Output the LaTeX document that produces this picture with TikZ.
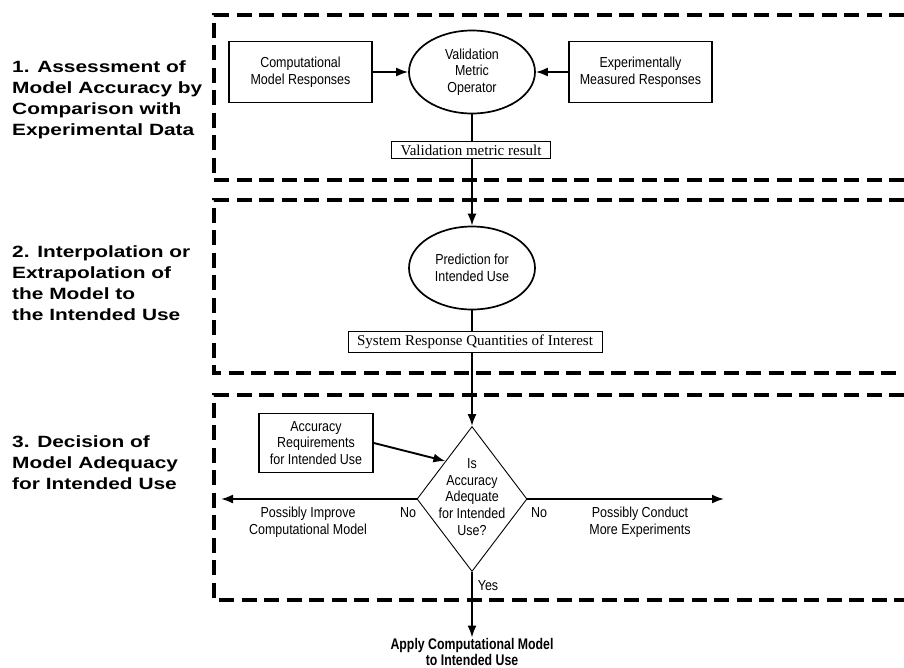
\documentclass[tikz,border=0pt]{standalone}
\usepackage{fontspec}
\setmainfont{Liberation Serif}
\newfontfamily\nodefont[FakeStretch=0.86]{Liberation Sans}
\newfontfamily\labfont[FakeStretch=1.28]{Liberation Sans}
\newfontfamily\condfont[FakeStretch=0.8]{Liberation Sans}
\usetikzlibrary{shapes.geometric,arrows.meta,calc}
\begin{document}
\begin{tikzpicture}[x=1pt,y=-1pt,
  dashbox/.style={line width=3.3pt,dash pattern=on 15pt off 7.5pt},
  sbox/.style={draw,line width=1.7pt,inner sep=0pt,align=center,
    font=\nodefont\fontsize{14.5}{16.7}\selectfont},
  ell/.style={ellipse,draw,line width=1.7pt,inner sep=0pt,align=center,
    minimum width=126pt,minimum height=83pt,
    font=\nodefont\fontsize{14.5}{16.7}\selectfont},
  rbox/.style={draw,line width=0.8pt,inner xsep=9pt,inner ysep=3.5pt,
    font=\fontsize{15}{17}\selectfont},
  dia/.style={diamond,draw,line width=0.9pt,inner sep=0pt,
    minimum width=110pt,minimum height=145pt},
  txt/.style={inner sep=0pt,align=center,
    font=\nodefont\fontsize{14.5}{16.7}\selectfont},
  lab/.style={inner sep=0pt,align=left,anchor=west,
    font=\labfont\bfseries\fontsize{16.3}{21}\selectfont},
  conn/.style={line width=1.9pt},
  arr/.style={line width=1.9pt,-{Latex[length=12pt,width=9pt]}}
]
\useasboundingbox (0,0) rectangle (904,667);

% dashed section frames
\draw[dashbox] (904,15) -- (214,15) -- (214,180) -- (904,180);
\draw[dashbox] (904,200) -- (214,200) -- (214,373) -- (904,373);
\draw[dashbox] (904,395) -- (214,395) -- (214,600) -- (904,600);

% section labels
\node[lab] (l1) at (12,100) {1. Assessment of\\Model Accuracy by\\Comparison with\\Experimental Data};
\node[lab] (l2) at (12,283) {2. Interpolation or\\Extrapolation of\\the Model to\\the Intended Use};
\node[lab] (l3) at (12,463) {3. Decision of\\Model Adequacy\\for Intended Use};

% section 1
\node[sbox,minimum width=143pt,minimum height=61pt] (comp) at (300.5,72) {Computational\\Model Responses};
\node[ell] (vmo) at (472,72) {Validation\\Metric\\Operator};
\node[sbox,minimum width=143pt,minimum height=61pt] (exp) at (640.5,72) {Experimentally\\Measured Responses};
\node[rbox] (vmr) at (471,150) {Validation metric result};

% section 2
\node[ell] (pred) at (472,268) {Prediction for\\Intended Use};
\node[rbox] (srq) at (475,342) {System Response Quantities of Interest};

% section 3
\node[dia] (dec) at (472,499) {};
\node[txt] (dectxt) at (472,497) {Is\\Accuracy\\Adequate\\for Intended\\Use?};
\node[sbox,minimum width=114pt,minimum height=59pt] (acc) at (316,443) {Accuracy\\Requirements\\for Intended Use};
\node[txt] (imp) at (308,522) {Possibly Improve\\Computational Model};
\node[txt] (con) at (640,522) {Possibly Conduct\\More Experiments};
\node[txt] (no1) at (408,513) {No};
\node[txt] (no2) at (539,513) {No};
\node[txt] (yes) at (488,586) {Yes};
\node[inner sep=1pt,align=center,font=\condfont\bfseries\fontsize{15.4}{15.2}\selectfont] (apply) at (472,652) {Apply Computational Model\\to Intended Use};

\coordinate (lend) at (221,499);
\coordinate (rend) at (724,499);

% connectors
\draw[arr] (comp) -- (vmo);
\draw[arr] (exp) -- (vmo);
\draw[conn] (vmo.south) -- (vmo.south |- vmr.north);
\draw[arr] (vmo.south |- vmr.south) -- (pred.north);
\draw[conn] (pred.south) -- (pred.south |- srq.north);
\draw[arr] (dec.north |- srq.south) -- (dec.north);
\draw[arr] (acc.east) -- ($(dec.north)!0.48!(dec.west)$);
\draw[arr] (dec.west) -- (lend);
\draw[arr] (dec.east) -- (rend);
\draw[arr] (dec.south) -- (apply.north);
\end{tikzpicture}
\end{document}
